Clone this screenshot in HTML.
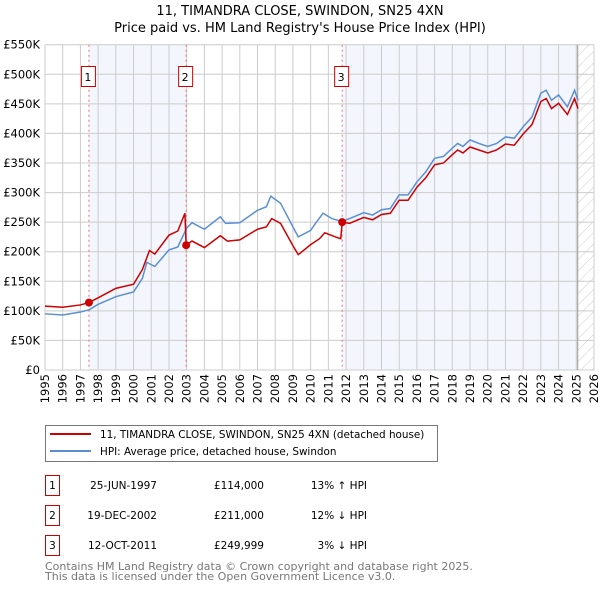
<!DOCTYPE html>
<html><head><meta charset="utf-8"><style>
body{margin:0;background:#fff;font-family:"DejaVu Sans","Liberation Sans",sans-serif;}
svg{display:block}
</style></head><body>
<svg id="c" width="600" height="590" xmlns="http://www.w3.org/2000/svg" font-family="DejaVu Sans, Liberation Sans, sans-serif">
<text x="300" y="15" text-anchor="middle" font-size="13">11, TIMANDRA CLOSE, SWINDON, SN25 4XN</text>
<text x="300" y="32" text-anchor="middle" font-size="13">Price paid vs. HM Land Registry's House Price Index (HPI)</text>
<defs><pattern id="hatch" width="8" height="8" patternUnits="userSpaceOnUse" patternTransform="rotate(45)"><line x1="0" y1="0" x2="0" y2="8" stroke="#ccc" stroke-width="1"/></pattern></defs>
<g id="plot"></g>
<g>
<rect x="45.5" y="425.5" width="392" height="36" fill="#fff" stroke="#777"/>
<line x1="50" y1="434" x2="91" y2="434" stroke="#cc0000" stroke-width="2"/>
<text x="100" y="438" font-size="10.4">11, TIMANDRA CLOSE, SWINDON, SN25 4XN (detached house)</text>
<line x1="50" y1="451" x2="91" y2="451" stroke="#5b8fd4" stroke-width="2"/>
<text x="100" y="455" font-size="10.4">HPI: Average price, detached house, Swindon</text>
</g>
<g font-size="10.5">
<rect x="45.5" y="475.5" width="14" height="20" fill="none" stroke="#cc0000"/><text x="52.5" y="489" text-anchor="middle">1</text>
<text x="157" y="489" text-anchor="end">25-JUN-1997</text><text x="264" y="489" text-anchor="end">£114,000</text><text x="367" y="489" text-anchor="end">13% ↑ HPI</text>
<rect x="45.5" y="505.5" width="14" height="20" fill="none" stroke="#cc0000"/><text x="52.5" y="519" text-anchor="middle">2</text>
<text x="157" y="519" text-anchor="end">19-DEC-2002</text><text x="264" y="519" text-anchor="end">£211,000</text><text x="367" y="519" text-anchor="end">12% ↓ HPI</text>
<rect x="45.5" y="535.5" width="14" height="20" fill="none" stroke="#cc0000"/><text x="52.5" y="549" text-anchor="middle">3</text>
<text x="157" y="549" text-anchor="end">12-OCT-2011</text><text x="264" y="549" text-anchor="end">£249,999</text><text x="367" y="549" text-anchor="end">3% ↓ HPI</text>
</g>
<text x="45" y="570" font-size="11" fill="#777">Contains HM Land Registry data © Crown copyright and database right 2025.</text>
<text x="45" y="580" font-size="11" fill="#777">This data is licensed under the Open Government Licence v3.0.</text>
</svg>
<script>
const yTicks=[0,50,100,150,200,250,300,350,400,450,500,550];
const years=[1995,1996,1997,1998,1999,2000,2001,2002,2003,2004,2005,2006,2007,2008,2009,2010,2011,2012,2013,2014,2015,2016,2017,2018,2019,2020,2021,2022,2023,2024,2025,2026];
const hpiT=[1995,1996,1997,1997.5,1998,1999,2000,2000.5,2000.75,2001.2,2002,2002.5,2003,2003.3,2004,2004.9,2005.2,2006,2007,2007.5,2007.75,2008.3,2009,2009.3,2010,2010.3,2010.7,2011.2,2011.78,2012.2,2013,2013.5,2014,2014.5,2015,2015.5,2016,2016.5,2017,2017.5,2018,2018.3,2018.6,2019,2019.5,2020,2020.5,2021,2021.5,2022,2022.5,2023,2023.3,2023.6,2024,2024.5,2024.9,2025.1];
const hpiV=[95,93,98,102,111,124,132,155,182,175,203,208,240,249,238,259,248,249,270,276,294,282,242,225,236,249,265,256,251,256,266,262,271,273,296,296,318,335,358,361,375,383,378,389,383,378,383,394,392,411,428,468,473,456,465,445,473,456];
const redT=[1995,1996,1997,1997.48,1998,1999,2000,2000.5,2000.9,2001.2,2002,2002.5,2002.9,2002.97,2003.3,2004,2004.9,2005.3,2006,2007,2007.5,2007.8,2008.3,2009,2009.3,2010,2010.5,2010.8,2011.4,2011.7,2011.78,2012.2,2013,2013.5,2014,2014.5,2015,2015.5,2016,2016.5,2017,2017.5,2018,2018.3,2018.6,2019,2019.5,2020,2020.5,2021,2021.5,2022,2022.5,2023,2023.3,2023.6,2024,2024.5,2024.9,2025.1];
const redV=[108,106,110,114,122,138,145,170,202,196,228,235,265,211,218,207,227,218,220,238,242,256,248,210,195,212,222,232,225,222,250,248,258,254,263,265,287,287,309,325,347,350,364,372,367,377,372,367,372,382,380,399,415,454,459,442,451,432,459,442];
const saleT=[1997.48,2002.97,2011.78];
const saleV=[114,211,249.999];
const L=45,R=594,T=44.7,B=370,x0=1995,x1=2026;
const X=t=>L+(t-x0)/(x1-x0)*(R-L), Y=v=>B-v/550*(B-T);
const g=document.getElementById('plot'),NS='http://www.w3.org/2000/svg';
function mk(tag,a,name,par){const e=document.createElementNS(NS,tag);for(const k in a)e.setAttribute(k,a[k]);


(par||g).appendChild(e);return e;}
mk('rect',{x:X(saleT[0]),y:T,width:X(saleT[1])-X(saleT[0]),height:B-T,fill:'#f3f6fd'},'shade-1');
mk('rect',{x:X(saleT[2]),y:T,width:X(2025.08)-X(saleT[2]),height:B-T,fill:'#f3f6fd'},'shade-2');
mk('rect',{x:X(2025.08),y:T,width:R-X(2025.08),height:B-T,fill:'url(#hatch)'},'future-hatch');
years.forEach(y=>{mk('line',{x1:X(y),x2:X(y),y1:T,y2:B,stroke:'#ccc'},'x-grid');
const t=mk('text',{x:0,y:0,'font-size':11.5,'text-anchor':'end',transform:`translate(${X(y)+4},${B+4}) rotate(-90)`},'x-tick-label');t.textContent=y;});
yTicks.forEach(v=>{mk('line',{x1:L,x2:R,y1:Y(v),y2:Y(v),stroke:'#ccc'},'y-grid');
const t=mk('text',{x:L-5,y:Y(v)+4,'font-size':11.5,'text-anchor':'end'},'y-tick-label');t.textContent=v?'£'+v+'K':'£0';});
mk('line',{x1:X(2025.08),x2:X(2025.08),y1:T,y2:B,stroke:'#999','stroke-width':1},'data-end-line');
saleT.forEach((s,i)=>{mk('line',{x1:X(s),x2:X(s),y1:T,y2:B,stroke:'#f07070','stroke-dasharray':'2,3'},'sale-marker-line');
mk('rect',{x:X(s)-7.5,y:66.5,width:14,height:20,fill:'#fff',stroke:'#cc0000'},'sale-marker-box');
const t=mk('text',{x:X(s)-1,y:81,'font-size':11,'text-anchor':'middle'},'sale-marker-label');t.textContent=i+1;});
mk('polyline',{points:hpiT.map((t,i)=>X(t)+','+Y(hpiV[i])).join(' '),fill:'none',stroke:'#5b8fd4','stroke-width':1.5},'hpi-line');
mk('polyline',{points:redT.map((t,i)=>X(t)+','+Y(redV[i])).join(' '),fill:'none',stroke:'#cc0000','stroke-width':1.5},'price-paid-line');
saleT.forEach((s,i)=>mk('circle',{cx:X(s),cy:Y(saleV[i]),r:4,fill:'#cc0000'},'sale-point'));
</script>
</body></html>
